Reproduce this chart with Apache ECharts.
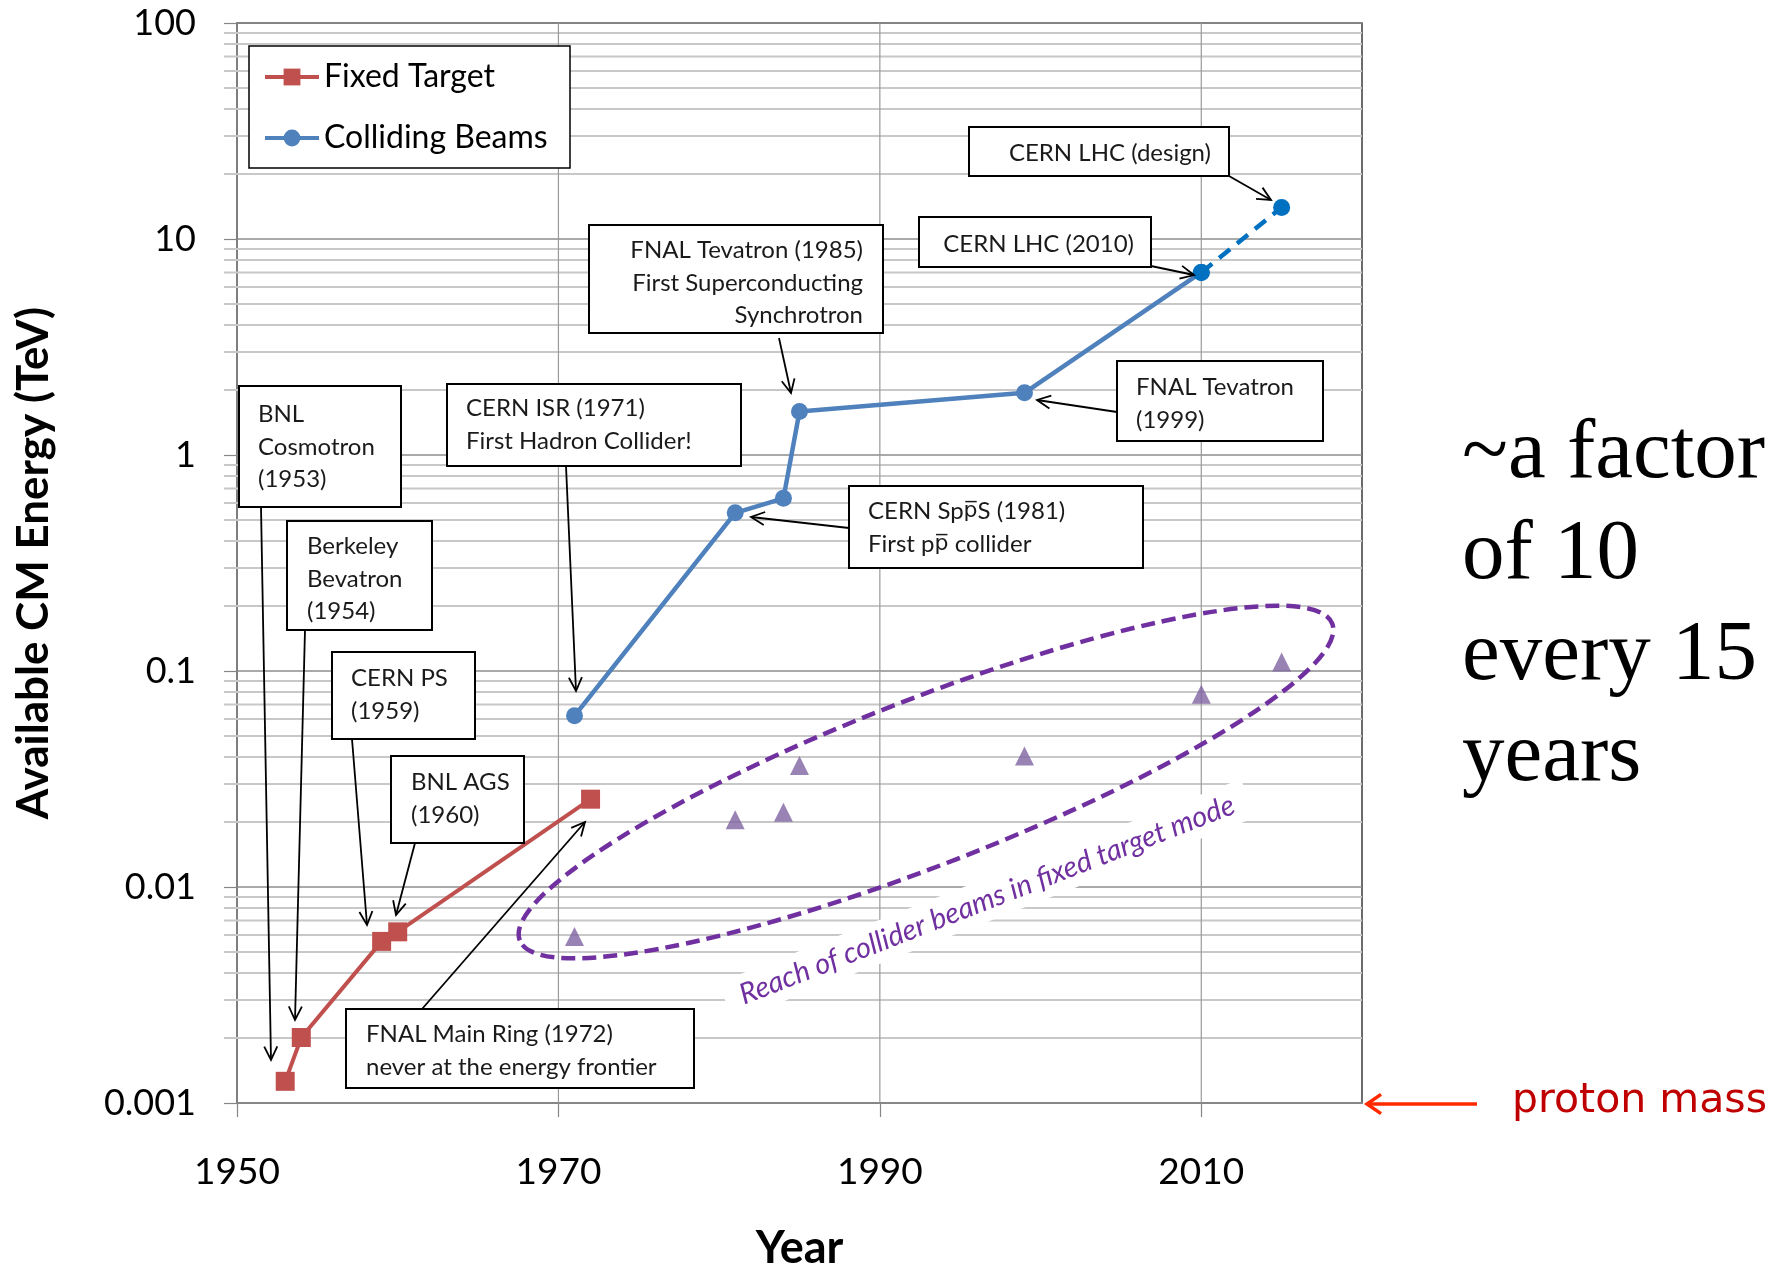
<!DOCTYPE html>
<html>
<head>
<meta charset="utf-8">
<title>Available CM Energy vs Year</title>
<script src="https://cdn.jsdelivr.net/npm/echarts@6/dist/echarts.min.js"></script>
<style>
  html, body { margin: 0; padding: 0; background: #ffffff; }
  #chart { width: 1787px; height: 1266px; }
</style>
</head>
<body>
<div id="chart"></div>
<script>
// ---- Data: year and available centre-of-mass energy (TeV) ----
const FIXED_TARGET_YEARS = [1953, 1954, 1959, 1960, 1972];
const FIXED_TARGET_TEV   = [0.00126, 0.00201, 0.0056, 0.0062, 0.0255];

const COLLIDER_YEARS = [1971, 1981, 1984, 1985, 1999, 2010];
const COLLIDER_TEV   = [0.062, 0.54, 0.63, 1.59, 1.94, 7];

const LHC_DESIGN_YEARS = [2010, 2015];
const LHC_DESIGN_TEV   = [7, 14];

// Collider beam energies expressed as fixed-target equivalents
const FT_EQUIV_YEARS = [1971, 1981, 1984, 1985, 1999, 2010, 2015];
const FT_EQUIV_TEV   = [0.0059, 0.0205, 0.0222, 0.0365, 0.0404, 0.078, 0.11];

// ---- Axis ticks ----
const X_TICKS = [1950, 1970, 1990, 2010];
const X_GRID_YEARS = [1970, 1990, 2010];
const Y_TICK_LABELS = ['0.001', '0.01', '0.1', '1', '10', '100'];
const Y_DECADES = [0.001, 0.01, 0.1, 1, 10];
const Y_MINOR_MANTISSAS = [2, 3, 4, 5, 6, 7, 8, 9];

const SERIES_NAMES = ['Fixed Target', 'Colliding Beams'];

const zip = (xs, ys) => xs.map((x, i) => [x, ys[i]]);
const yMinor = [];
Y_DECADES.forEach(d => Y_MINOR_MANTISSAS.forEach(m => yMinor.push(+(d * m).toPrecision(3))));

const FONT = 'Lato, "DejaVu Sans", sans-serif';
const NOTE_SIZE = 24;
const NOTE_LH = 32.5;

// rich-text style for an overlined "p" (antiproton)
const NOTE_RICH = {
  ov: { fontFamily: '"DejaVu Sans", sans-serif', fontSize: 22, fill: '#1a1a1a', lineHeight: NOTE_LH }
};

// ---- Helpers for annotation graphics ----
function arrow(x1, y1, x2, y2, o) {
  o = o || {};
  const stroke = o.color || '#000';
  const lw = o.width || 1.8;
  const L = o.head || 15;
  const s = o.spread || 0.45;
  const a = Math.atan2(y2 - y1, x2 - x1);
  const p1 = [x2 - L * Math.cos(a - s), y2 - L * Math.sin(a - s)];
  const p2 = [x2 - L * Math.cos(a + s), y2 - L * Math.sin(a + s)];
  return {
    type: 'group', z: 20,
    children: [
      { type: 'line', z: 20, shape: { x1, y1, x2, y2 }, style: { stroke, lineWidth: lw } },
      { type: 'polyline', z: 20, shape: { points: [p1, [x2, y2], p2] }, style: { stroke, lineWidth: lw, fill: null } }
    ]
  };
}

function noteBox(b) {
  return {
    type: 'group', z: 15,
    children: [
      { type: 'rect', z: 15, shape: { x: b.x, y: b.y, width: b.w, height: b.h },
        style: { fill: '#ffffff', stroke: '#000000', lineWidth: 2 } },
      { type: 'text', z: 16, x: b.tx, y: b.ty,
        style: { text: b.text, fontFamily: FONT, fontSize: NOTE_SIZE, fill: '#1a1a1a',
                 align: b.align || 'left', verticalAlign: 'middle', lineHeight: NOTE_LH,
                 rich: NOTE_RICH } }
    ]
  };
}

// Annotation boxes with their callout arrows (pixel layout)
const NOTES = [
  { box: { x: 239, y: 386, w: 162, h: 121, tx: 258, ty: 447, text: 'BNL\nCosmotron\n(1953)' },
    arrow: [261, 507, 271, 1060] },
  { box: { x: 287, y: 521, w: 145, h: 109, tx: 307, ty: 579, text: 'Berkeley\nBevatron\n(1954)' },
    arrow: [305, 630, 295, 1020] },
  { box: { x: 332, y: 652, w: 143, h: 87, tx: 351, ty: 695, text: 'CERN PS\n(1959)' },
    arrow: [352, 739, 367, 925] },
  { box: { x: 391, y: 756, w: 133, h: 87, tx: 411, ty: 799, text: 'BNL AGS\n(1960)' },
    arrow: [415, 843, 396, 915] },
  { box: { x: 447, y: 384, w: 294, h: 82, tx: 466, ty: 425, text: 'CERN ISR (1971)\nFirst Hadron Collider!' },
    arrow: [566, 466, 576, 691] },
  { box: { x: 589, y: 225, w: 294, h: 108, tx: 863, ty: 283, align: 'right',
           text: 'FNAL Tevatron (1985)\nFirst Superconducting\nSynchrotron' },
    arrow: [779, 338, 791, 393] },
  { box: { x: 969, y: 127, w: 260, h: 49, tx: 1211, ty: 153, align: 'right', text: 'CERN LHC (design)' },
    arrow: [1229, 176, 1271, 200] },
  { box: { x: 919, y: 217, w: 232, h: 50, tx: 1134, ty: 244, align: 'right', text: 'CERN LHC (2010)' },
    arrow: [1151, 266, 1194, 275] },
  { box: { x: 1117, y: 361, w: 206, h: 80, tx: 1136, ty: 404, text: 'FNAL Tevatron\n(1999)' },
    arrow: [1117, 412, 1037, 400] },
  { box: { x: 849, y: 486, w: 294, h: 82, tx: 868, ty: 528,
           text: 'CERN Sp{ov|p\u0305}S (1981)\nFirst p{ov|p\u0305} collider' },
    arrow: [849, 528, 751, 517] },
  { box: { x: 346, y: 1009, w: 348, h: 79, tx: 366, ty: 1051,
           text: 'FNAL Main Ring (1972)\nnever at the energy frontier' },
    arrow: [422, 1009, 585, 822] }
];

const graphics = [];

// Legend frame (white panel under the legend)
graphics.push({ type: 'rect', z: 3, shape: { x: 249, y: 46, width: 321, height: 122 },
  style: { fill: '#ffffff', stroke: '#000000', lineWidth: 1.5 } });

// Dashed ellipse around the fixed-target equivalents
graphics.push({ type: 'ellipse', z: 12, x: 926, y: 782, rotation: 21.3 * Math.PI / 180,
  shape: { cx: 0, cy: 0, rx: 436, ry: 83 },
  style: { fill: null, stroke: '#7030A0', lineWidth: 4.5, lineDash: [14, 7] } });

graphics.push({ type: 'text', z: 11, x: 987, y: 900, rotation: 21.3 * Math.PI / 180,
  style: { text: 'Reach of collider beams in fixed target mode', fontFamily: FONT, fontStyle: 'italic',
           fontSize: 29, fill: '#7030A0', align: 'center', verticalAlign: 'middle',
           backgroundColor: '#ffffff', padding: [6, 16] } });

NOTES.forEach(n => {
  graphics.push(noteBox(n.box));
  graphics.push(arrow(n.arrow[0], n.arrow[1], n.arrow[2], n.arrow[3]));
});

// Side remark and proton-mass marker
graphics.push({ type: 'text', z: 10, x: 1462, y: 404,
  style: { text: '~a factor\nof 10\nevery 15\nyears', fontFamily: '"Liberation Serif", "Times New Roman", serif',
           fontSize: 85, lineHeight: 101, fill: '#000000', align: 'left', verticalAlign: 'top' } });

graphics.push({ type: 'text', z: 10, x: 1512, y: 1101,
  style: { text: 'proton mass', fontFamily: '"DejaVu Sans", sans-serif', fontSize: 41,
           fill: '#C00000', align: 'left', verticalAlign: 'middle' } });

graphics.push(arrow(1477, 1104, 1367, 1104, { color: '#FF2A00', width: 3.5, head: 17, spread: 0.6 }));

// ---- Chart ----
const chart = echarts.init(document.getElementById('chart'), null, { renderer: 'canvas' });

const option = {
  animation: false,
  backgroundColor: '#ffffff',
  grid: { left: 237, top: 23, right: 425, bottom: 163, show: true,
          outerBoundsMode: 'none', containLabel: false,
          borderColor: '#3c3c3c', borderWidth: 1.5, backgroundColor: 'transparent' },
  legend: {
    data: SERIES_NAMES,
    orient: 'vertical', left: 258, top: 56,
    itemWidth: 54, itemHeight: 21, itemGap: 29,
    lineStyle: { width: 4 },
    textStyle: { fontFamily: FONT, fontSize: 32, color: '#000000' },
    z: 4
  },
  xAxis: {
    type: 'value', min: 1950, max: 2020, interval: 10,
    axisLine: { show: true, lineStyle: { color: '#868686', width: 1.5 } },
    axisTick: { show: true, length: 14, customValues: X_TICKS, lineStyle: { color: '#868686', width: 1.2 } },
    axisLabel: { customValues: X_TICKS, margin: 51, fontFamily: FONT, fontSize: 37, color: '#000000',
                 formatter: v => String(v) },
    splitLine: { show: false },
    name: 'Year', nameLocation: 'middle', nameGap: 123,
    nameTextStyle: { fontFamily: FONT, fontWeight: 'bold', fontSize: 45, color: '#000000' }
  },
  yAxis: {
    type: 'log', logBase: 10, min: 0.001, max: 100,
    axisLine: { show: true, lineStyle: { color: '#868686', width: 1.5 } },
    axisTick: { show: true, length: 13, lineStyle: { color: '#868686', width: 1.2 } },
    axisLabel: { margin: 41, fontFamily: FONT, fontSize: 36, color: '#000000',
                 formatter: v => Y_TICK_LABELS[Math.round(Math.log10(v)) + 3] },
    splitLine: { show: true, lineStyle: { color: '#8c8c8c', width: 1.5 } },
    name: 'Available CM Energy (TeV)', nameLocation: 'middle', nameGap: 181,
    nameTextStyle: { fontFamily: FONT, fontWeight: 'bold', fontSize: 44, color: '#000000' }
  },
  series: [
    {
      // minor horizontal gridlines, with small outward ticks on the value axis
      type: 'custom', silent: true, z: 1, clip: false,
      data: yMinor.map(v => [1950, v]),
      renderItem: (params, api) => {
        const p = api.coord([1950, api.value(1)]);
        const cs = params.coordSys;
        return { type: 'line', shape: { x1: cs.x - 13, y1: p[1], x2: cs.x + cs.width, y2: p[1] },
                 style: { stroke: '#c8c8c8', lineWidth: 2 } };
      }
    },
    {
      // vertical gridlines at labelled years
      type: 'custom', silent: true, z: 1, clip: false,
      data: X_GRID_YEARS.map(y => [y, 100]),
      renderItem: (params, api) => {
        const top = api.coord([api.value(0), 100]);
        const bot = api.coord([api.value(0), 0.001]);
        return { type: 'line', shape: { x1: top[0], y1: top[1], x2: bot[0], y2: bot[1] },
                 style: { stroke: '#9a9a9a', lineWidth: 1.2 } };
      }
    },
    {
      name: SERIES_NAMES[0], type: 'line', z: 5,
      data: zip(FIXED_TARGET_YEARS, FIXED_TARGET_TEV),
      symbol: 'rect', symbolSize: 19,
      lineStyle: { color: '#C0504D', width: 4 },
      itemStyle: { color: '#C0504D' }
    },
    {
      name: SERIES_NAMES[1], type: 'line', z: 5,
      data: zip(COLLIDER_YEARS, COLLIDER_TEV).map((d, i, arr) =>
        i === arr.length - 1 ? { value: d, itemStyle: { color: '#0070C0' } } : d),
      symbol: 'circle', symbolSize: 17,
      lineStyle: { color: '#4F81BD', width: 4.5 },
      itemStyle: { color: '#4F81BD' }
    },
    {
      name: 'LHC design', type: 'line', z: 5,
      data: zip(LHC_DESIGN_YEARS, LHC_DESIGN_TEV),
      symbol: 'circle', symbolSize: 17,
      lineStyle: { color: '#0070C0', width: 4.5, type: [14, 9] },
      itemStyle: { color: '#0070C0' }
    },
    {
      name: 'Fixed-target equivalent', type: 'scatter', z: 5,
      data: zip(FT_EQUIV_YEARS, FT_EQUIV_TEV),
      symbol: 'triangle', symbolSize: 19,
      itemStyle: { color: '#8064A2' }
    }
  ],
  graphic: { elements: graphics }
};

chart.setOption(option);
</script>
</body>
</html>
